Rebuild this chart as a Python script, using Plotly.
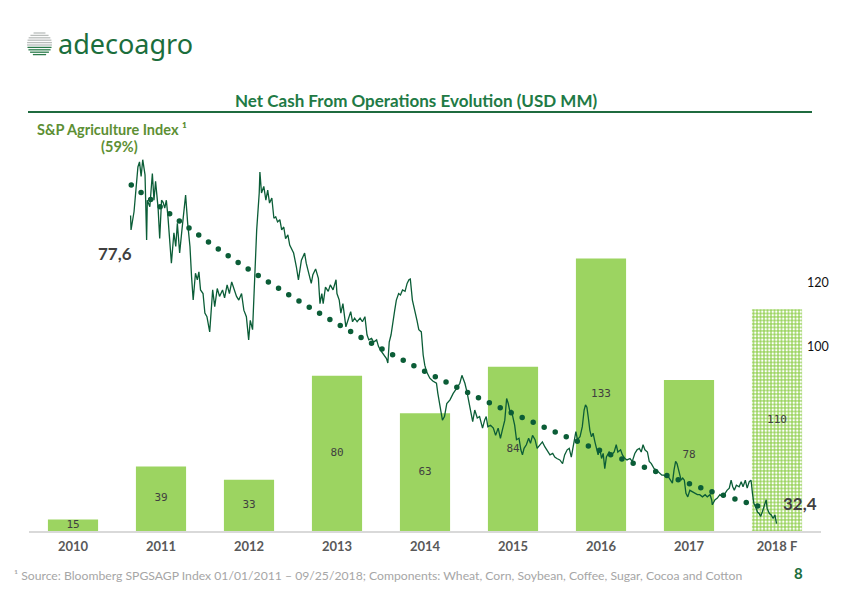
import pandas as pd
import plotly.graph_objects as go

# ---------------- data ----------------
years = ["2010", "2011", "2012", "2013", "2014", "2015", "2016", "2017", "2018 F"]
net_cash = [15, 39, 33, 80, 63, 84, 133, 78, 110]

# S&P Agriculture index: trading-day number since 2011-01-03 and index level
idx_day = [
    0, 2, 11, 19, 24, 29, 34, 39, 45, 50,
    53, 60, 69, 74, 79, 86, 91, 97, 102, 107,
    112, 117, 122, 128, 135, 141, 146, 154, 160, 166,
    172, 179, 185, 190, 195, 203, 209, 214, 219, 226,
    232, 239, 247, 256, 263, 270, 278, 287, 294, 301,
    309, 315, 323, 330, 338, 346, 354, 361, 369, 374,
    380, 387, 394, 401, 404, 409, 415, 422, 428, 434,
    440, 447, 453, 459, 465, 471, 478, 484, 490, 496,
    503, 509, 517, 524, 533, 543, 548, 557, 564, 569,
    577, 585, 590, 596, 600, 608, 616, 623, 631, 640,
    644, 650, 655, 662, 671, 678, 686, 692, 699, 706,
    715, 723, 730, 737, 743, 751, 758, 767, 773, 779,
    785, 791, 798, 802, 806, 812, 818, 824, 829, 835,
    841, 848, 855, 862, 868, 872, 879, 886, 893, 899,
    906, 912, 917, 923, 933, 942, 954, 958, 966, 972,
    979, 985, 995, 1005, 1016, 1026, 1033, 1042, 1049, 1057,
    1066, 1073, 1080, 1088, 1097, 1104, 1109, 1114, 1122, 1130,
    1138, 1145, 1153, 1159, 1166, 1172, 1177, 1182, 1187, 1192,
    1197, 1203, 1210, 1216, 1221, 1226, 1234, 1240, 1246, 1253,
    1260, 1267, 1275, 1284, 1291, 1298, 1307, 1315, 1322, 1329,
    1338, 1346, 1353, 1360, 1367, 1374, 1381, 1388, 1393, 1400,
    1408, 1414, 1418, 1422, 1426, 1431, 1436, 1441, 1447, 1452,
    1457, 1462, 1468, 1473, 1478, 1483, 1491, 1499, 1507, 1514,
    1519, 1527, 1533, 1540, 1547, 1556, 1564, 1571, 1579, 1585,
    1591, 1597, 1603, 1610, 1616, 1623, 1631, 1639, 1647, 1655,
    1662, 1668, 1675, 1683, 1689, 1694, 1699, 1703, 1709, 1715,
    1720, 1725, 1730, 1736, 1743, 1751, 1758, 1766, 1774, 1782,
    1790, 1797, 1805, 1810, 1813, 1821, 1828, 1836, 1845, 1852,
    1859, 1865, 1871, 1876, 1881, 1888, 1896, 1903, 1909, 1915,
    1921, 1928, 1934, 1938, 1942, 1948, 1954, 1959, 1964, 1969,
    1974, 1980, 1984, 1990, 1996, 2002, 2008, 2013,
]
idx_val = [
    73.4, 71.4, 73.9, 77.8, 80.1, 80.8, 78.8, 81.1, 79.0, 70.0,
    75.5, 74.6, 79.2, 75.5, 78.1, 74.4, 70.2, 75.5, 75.2, 74.4,
    75.5, 73.2, 70.5, 66.8, 71.0, 69.1, 72.3, 68.2, 71.4, 74.4,
    76.2, 72.3, 69.1, 64.9, 61.7, 65.4, 64.5, 65.6, 63.1, 62.6,
    59.9, 59.4, 57.3, 63.1, 60.8, 63.3, 62.2, 63.1, 62.0, 63.8,
    62.6, 64.2, 63.1, 62.2, 61.7, 62.6, 60.3, 59.4, 56.2, 58.9,
    57.6, 64.9, 71.4, 76.5, 79.4, 76.5, 77.4, 75.5, 76.9, 75.1,
    75.8, 73.0, 73.2, 72.5, 72.8, 71.4, 71.8, 70.2, 70.7, 69.3,
    68.6, 68.2, 66.3, 64.5, 67.2, 68.2, 66.8, 64.9, 64.0, 65.2,
    66.0, 64.7, 61.2, 62.6, 61.2, 63.5, 62.9, 63.8, 63.1, 64.5,
    62.6, 61.7, 59.9, 61.2, 58.0, 58.9, 60.1, 58.7, 59.2, 58.7,
    59.2, 58.7, 59.4, 56.9, 56.2, 56.4, 55.9, 56.2, 55.3, 54.8,
    54.3, 53.9, 53.6, 53.0, 55.9, 56.9, 58.9, 60.3, 61.7, 62.6,
    62.4, 63.1, 62.9, 64.0, 64.5, 64.6, 61.7, 60.3, 58.9, 57.6,
    57.3, 54.1, 52.7, 51.8, 50.9, 50.5, 50.2, 48.8, 46.7, 45.1,
    45.6, 47.4, 47.9, 48.8, 49.5, 50.2, 51.3, 50.2, 49.0, 47.2,
    44.9, 46.5, 45.4, 45.6, 44.0, 45.1, 45.6, 44.2, 44.4, 44.0,
    43.0, 44.0, 42.6, 43.7, 45.1, 48.1, 47.4, 46.3, 46.5, 45.4,
    44.4, 42.4, 42.6, 41.0, 40.3, 41.2, 41.7, 42.6, 41.9, 43.0,
    42.4, 41.2, 41.7, 42.1, 41.4, 41.0, 40.3, 40.5, 40.0, 39.8,
    39.6, 39.1, 40.3, 41.0, 41.2, 40.0, 41.9, 43.5, 42.4, 42.8,
    44.2, 46.5, 47.2, 46.9, 45.5, 43.7, 42.8, 43.3, 42.1, 41.0,
    40.3, 41.2, 39.8, 40.5, 38.4, 40.0, 40.7, 40.3, 40.7, 41.7,
    40.7, 41.0, 40.3, 39.8, 39.6, 39.8, 39.4, 40.5, 41.0, 41.2,
    40.7, 41.7, 41.0, 40.7, 39.4, 39.1, 38.4, 38.2, 37.8, 37.5,
    37.5, 37.3, 37.3, 36.8, 36.4, 38.2, 39.4, 39.1, 38.2, 36.8,
    37.1, 36.8, 35.0, 34.5, 35.4, 35.2, 35.0, 34.8, 34.8, 34.5,
    34.8, 34.5, 34.8, 34.1, 33.4, 34.1, 34.3, 34.8, 34.5, 35.0,
    35.4, 35.7, 36.8, 35.9, 35.4, 36.1, 35.9, 36.6, 35.9, 36.8,
    35.7, 36.6, 36.8, 35.0, 33.6, 33.1, 32.4, 32.2, 31.8, 32.4,
    33.1, 34.1, 32.9, 32.2, 32.0, 31.5, 32.0, 30.8,
]

# trend of the index, read at a few points
trend_day = [3, 150, 302, 459, 619, 780, 945, 1114, 1285, 1457, 1631, 1806, 1985]
trend_val = [77.6, 72.7, 67.9, 63.4, 59.1, 55.0, 51.2, 47.6, 44.2, 41.0, 38.1, 35.3, 32.8]

right_ticks = [100, 120]
start_label, end_label = "77,6", "32,4"

# ---------------- layout helpers (pixel -> paper) ----------------
W, H = 842, 595
L, R, T, B = 29, 821, 100, 531
Y_MIN, Y_MAX = 9.8, 204.6


def fx(x):
    return (x - L) / (R - L)


def fy(y):
    return (B - y) / (B - T)


bdays = pd.bdate_range("2011-01-03", periods=2100)
idx_dates = bdays[idx_day]
trend_dates = bdays[trend_day]

GREEN = "#9CD461"
DARK = "#0b5d37"

fig = go.Figure()

shapes_pat = [""] * (len(years) - 1) + ["."]
fig.add_trace(go.Bar(
    x=years, y=net_cash,
    marker=dict(color=GREEN, line=dict(width=0),
                pattern=dict(shape=shapes_pat, fgcolor="#ffffff", bgcolor=GREEN,
                             size=3.5, solidity=0.4, fillmode="replace")),
    width=0.57, hoverinfo="skip", showlegend=False,
))

# value labels centred on the visible part of each bar
fig.add_trace(go.Scatter(
    x=years, y=[(v + Y_MIN) / 2 for v in net_cash], mode="text",
    text=[str(v) for v in net_cash], textposition="middle center",
    textfont=dict(family="DejaVu Sans Mono", size=11, color="#404040"),
    hoverinfo="skip", showlegend=False,
))

fig.add_trace(go.Scatter(
    x=trend_dates, y=trend_val, xaxis="x2", yaxis="y2", mode="lines",
    line=dict(color=DARK, width=5.5, dash="0px,12px", shape="spline"),
    hoverinfo="skip", showlegend=False,
))

fig.add_trace(go.Scatter(
    x=idx_dates, y=idx_val, xaxis="x2", yaxis="y2", mode="lines",
    line=dict(color=DARK, width=1.3),
    hoverinfo="skip", showlegend=False,
))

fig.add_trace(go.Scatter(
    x=[years[-1]] * len(right_ticks), y=right_ticks, yaxis="y3", mode="markers",
    marker=dict(opacity=0), hoverinfo="skip", showlegend=False,
))

fig.update_layout(
    width=W, height=H, autosize=False,
    margin=dict(l=L, r=W - R, t=T, b=H - B, pad=0),
    paper_bgcolor="white", plot_bgcolor="white",
    bargap=0.43,
    xaxis=dict(type="category", range=[-0.5, len(years) - 0.5], showgrid=False,
               zeroline=False, showline=True, linecolor="#d9d9d9", linewidth=1.5,
               ticks="", ticklabelstandoff=3,
               tickfont=dict(family="Lato", size=13, color="#595959", weight="bold")),
    yaxis=dict(range=[Y_MIN, Y_MAX], visible=False, showgrid=False),
    xaxis2=dict(type="date", overlaying="x", anchor="y2",
                range=["2009-10-17", "2019-04-02"], visible=False),
    yaxis2=dict(overlaying="y", anchor="x2", range=[29.78, 89.35], visible=False),
    yaxis3=dict(overlaying="y", side="right", anchor="free", position=0.981,
                range=[42.5, 177.19], tickvals=right_ticks, showgrid=False,
                zeroline=False, showline=False, ticks="",
                tickfont=dict(family="Lato", size=12.5, color="#111111")),
)

ann = []
ann.append(dict(text="adecoagro", x=fx(56), y=fy(44), xanchor="left", yanchor="middle",
                font=dict(family="Noto Sans", size=27, color="#1b6e3c")))
ann.append(dict(text="Net Cash From Operations Evolution (USD MM)", x=fx(416), y=fy(101),
                xanchor="center", yanchor="middle",
                font=dict(family="Lato", size=17, color="#217a45", weight="bold")))
ann.append(dict(text="S&P Agriculture Index ¹", x=fx(112), y=fy(129), xanchor="center",
                yanchor="middle", font=dict(family="Lato", size=14.5, color="#5d8f34",
                                            weight="bold")))
ann.append(dict(text="(59%)", x=fx(119), y=fy(146), xanchor="center", yanchor="middle",
                font=dict(family="Lato", size=14.5, color="#5d8f34", weight="bold")))
ann.append(dict(text=start_label, x=fx(115), y=fy(253), xanchor="center", yanchor="middle",
                font=dict(family="Lato", size=17, color="#404040", weight="bold")))
ann.append(dict(text=end_label, x=fx(800), y=fy(503), xanchor="center", yanchor="middle",
                font=dict(family="Lato", size=17, color="#404040", weight="bold")))
ann.append(dict(text="¹ Source: Bloomberg SPGSAGP Index 01/01/2011 – 09/25/2018; Components: "
                     "Wheat, Corn, Soybean, Coffee, Sugar, Cocoa and Cotton",
                x=fx(12), y=fy(575), xanchor="left", yanchor="middle",
                font=dict(family="Lato", size=12.2, color="#a6a6a6")))
ann.append(dict(text="8", x=fx(798), y=fy(573), xanchor="center", yanchor="middle",
                font=dict(family="Lato", size=15, color="#1b6e3c", weight="bold")))
for a in ann:
    a.update(xref="paper", yref="paper", showarrow=False)
fig.update_layout(annotations=ann)

shp = []
# rule under title
shp.append(dict(type="line", xref="paper", yref="paper", x0=fx(28), x1=fx(812),
                y0=fy(112), y1=fy(112), line=dict(color="#1f6b3f", width=2)))
# logo globe: horizontal stripes in a disc
cx, cy, rr = 39.5, 44, 12.5
yy = cy - rr + 1.5
while yy < cy + rr:
    half = max(0.0, (rr ** 2 - (yy - cy) ** 2)) ** 0.5
    col = "#b9bdbb" if yy < cy + 1 else "#2b7b4b"
    shp.append(dict(type="line", xref="paper", yref="paper",
                    x0=fx(cx - half), x1=fx(cx + half), y0=fy(yy), y1=fy(yy),
                    line=dict(color=col, width=1.3)))
    yy += 2.4
fig.update_layout(shapes=shp)

post = (
    "document.body.style.margin='0';"
    "var s=document.createElement('style');"
    "s.innerHTML='.js-line[style*=\"dasharray: 0px\"]{stroke-linecap:round !important;}';"
    "document.head.appendChild(s);"
)
fig.write_html("out.html", post_script=post, config={"displayModeBar": False})
